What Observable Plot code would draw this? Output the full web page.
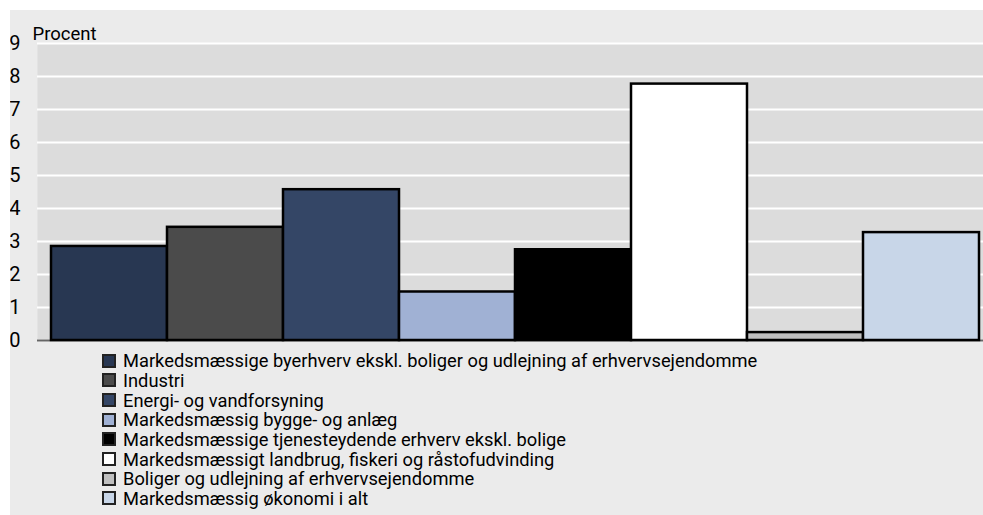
<!DOCTYPE html>
<html>
<head>
<meta charset="utf-8">
<script src="https://cdn.jsdelivr.net/npm/d3@7"></script>
<script src="https://cdn.jsdelivr.net/npm/@observablehq/plot@0.6"></script>
<style>
  html, body { margin: 0; padding: 0; background: #ffffff; }
  #box { position: absolute; left: 10px; top: 10px; width: 973px; height: 505px; background: #ebebeb; overflow: hidden; font-family: Roboto, "Open Sans", sans-serif; }
  #legend { margin-left: 92px; margin-top: 1px; }
  .row { display: flex; align-items: center; height: 19.67px; font-size: 18.3px; color: #000; white-space: nowrap; }
  .sw { width: 10px; height: 10px; border: 2px solid #222; margin-right: 7px; flex: none; }
</style>
</head>
<body>
<div id="box"><div id="chart"></div><div id="legend"></div></div>
<script>
const categories = [
  "Markedsmæssige byerhverv ekskl. boliger og udlejning af erhvervsejendomme",
  "Industri",
  "Energi- og vandforsyning",
  "Markedsmæssig bygge- og anlæg",
  "Markedsmæssige tjenesteydende erhverv ekskl. bolige",
  "Markedsmæssigt landbrug, fiskeri og råstofudvinding",
  "Boliger og udlejning af erhvervsejendomme",
  "Markedsmæssig økonomi i alt"
];
const values = [2.85, 3.43, 4.57, 1.47, 2.75, 7.77, 0.24, 3.27];
const colors = ["#283752", "#4b4b4b", "#344666", "#a0b1d4", "#000000", "#ffffff", "#bfbfbf", "#c8d6e8"];
const yTicks = [0, 1, 2, 3, 4, 5, 6, 7, 8, 9];
const yLabel = "Procent";

const data = categories.map((c, i) => ({category: c, value: values[i], color: colors[i]}));

const chart = Plot.plot({
  width: 973,
  height: 340,
  marginLeft: 27,
  marginRight: 0,
  marginTop: 33,
  marginBottom: 10,
  style: {fontFamily: "Roboto, 'Open Sans', sans-serif", background: "transparent", overflow: "visible"},
  x: {domain: categories, range: [38.3, 972.3], padding: 0, axis: null},
  y: {domain: [0, 9], ticks: yTicks, label: null},
  marks: [
    Plot.frame({fill: "#dcdcdc", stroke: null}),
    Plot.gridY(yTicks, {stroke: "#ffffff", strokeOpacity: 1, strokeWidth: 2}),
    Plot.axisY(yTicks, {tickSize: 0, tickPadding: 17, fontSize: 20, fill: "#000", textAnchor: "end", label: null}),
    Plot.ruleY([0], {stroke: "#666", strokeWidth: 2}),
    Plot.barY(data, {x: "category", y: "value", fill: "color", stroke: "#000", strokeWidth: 2.5}),
    Plot.text([yLabel], {frameAnchor: "top-left", text: d => d, textAnchor: "start", lineAnchor: "bottom", dx: -5, dy: -4, fontSize: 18.5, fill: "#000"})
  ]
});
document.getElementById("chart").appendChild(chart);

const legend = document.getElementById("legend");
data.forEach(d => {
  const row = document.createElement("div");
  row.className = "row";
  const sw = document.createElement("span");
  sw.className = "sw";
  sw.style.background = d.color;
  const t = document.createElement("span");
  t.textContent = d.category;
  row.appendChild(sw);
  row.appendChild(t);
  legend.appendChild(row);
});
</script>
</body>
</html>
